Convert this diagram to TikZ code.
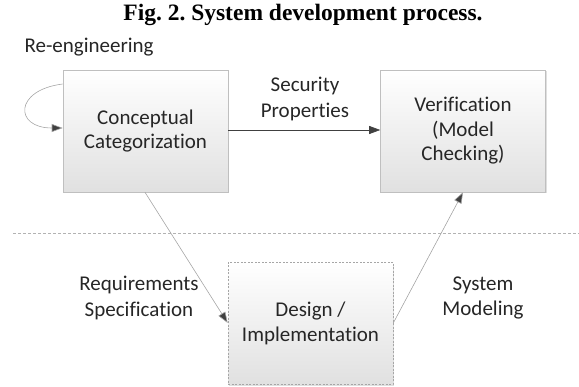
\documentclass[tikz,border=0pt]{standalone}
\usepackage{fontspec}
\setmainfont[Ligatures=NoCommon]{Carlito}
\newfontfamily\titlefont{Liberation Serif}
\usetikzlibrary{arrows.meta,shadows}
\frenchspacing
\begin{document}
\begin{tikzpicture}[x=1pt,y=-1pt,
  procbox/.style={draw=black!25, line width=0.6pt, top color=white, bottom color=black!12,
    minimum width=165pt, minimum height=122pt, align=center, inner sep=0pt,
    font=\fontsize{21}{24.5}\selectfont, text=black!85,
    drop shadow={shadow xshift=1.2pt, shadow yshift=-1.2pt, opacity=0.25}},
  lbl/.style={align=center, font=\fontsize{21}{25.5}\selectfont, text=black!85},
  tip/.style={-{Triangle[length=11pt,width=8pt,fill=black!75]}, line width=0.6pt},
]
\useasboundingbox (0,0) rectangle (579,387);
\node[font=\titlefont\bfseries\fontsize{23.5}{26}\selectfont] (title) at (303,15) {Fig. 2. System development process.};
\node[lbl, anchor=west] (reeng) at (21,47) {Re-engineering};
\node[procbox] (cc) at (145.5,131) {Conceptual\\Categorization};
\node[procbox] (ver) at (463,131) {Verification\\(Model\\Checking)};
\node[procbox, draw=black!35, dash pattern=on 2pt off 1.5pt] (des) at (310.5,323.5) {Design /\\Implementation};
\coordinate (dl) at (13,233);
\coordinate (dr) at (579,233);
\draw[black!30, dash pattern=on 3pt off 2pt, line width=0.6pt] (dl) -- (dr);
\draw[tip, draw=black!75] (cc.east |- 0,130) -- (ver.west |- 0,130);
\node[lbl] (sp) at (305,99) {Security\\Properties};
\draw[tip, draw=black!35] (cc.south -| 145,0) -- (des.west |- 0,323);
\draw[tip, draw=black!35] (des.east |- 0,323) -- (ver.south -| 463,0);
\node[lbl] (rs) at (139,298) {Requirements\\Specification};
\node[lbl] (sm) at (483,298) {System\\Modeling};
\draw[tip, draw=black!35] (cc.west |- 0,84) .. controls (14,90) and (14,128) .. (cc.west |- 0,128);
\end{tikzpicture}
\end{document}
